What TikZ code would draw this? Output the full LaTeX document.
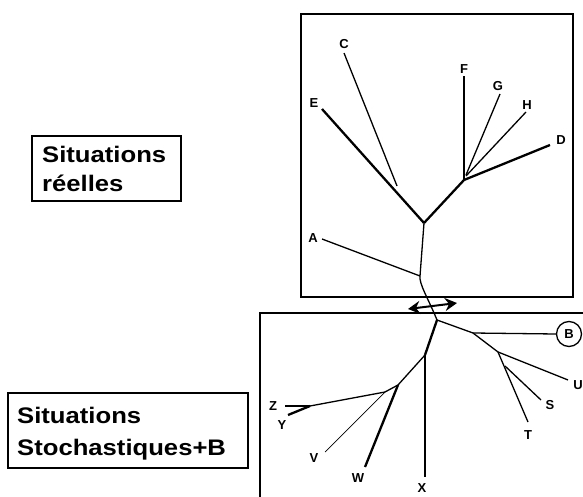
\documentclass[tikz,border=0pt]{standalone}
\usepackage{fontspec}
\setmainfont{Liberation Sans}
\usetikzlibrary{arrows.meta}
\begin{document}
\begin{tikzpicture}[x=1pt,y=-1pt,
  frame/.style={draw, line width=1.3pt},
  br/.style={line width=1.3pt},
  brthick/.style={line width=2.3pt},
  brthin/.style={line width=0.7pt},
  leaf/.style={font=\fontsize{13}{15}\selectfont\bfseries, inner sep=0pt},
  title/.style={anchor=base west, inner sep=0pt, font=\fontsize{22.5}{26}\selectfont\bfseries}
]
\useasboundingbox (0,0) rectangle (583,497);
\clip (0,0) rectangle (583,497);

% frames
\draw[frame] (301,14) rectangle (573,297);
\draw[frame] (260,313) rectangle (600,520);
\draw[frame] (32,136) rectangle (181,201);
\draw[frame] (8,393) rectangle (248,468);

\node[title] (t1) at (42,163) {\scalebox{1.14}[1]{Situations}};
\node[title] (t2) at (42,192) {\scalebox{1.14}[1]{réelles}};
\node[title] (t3) at (17,423) {\scalebox{1.14}[1]{Situations}};
\node[title] (t4) at (17,455) {\scalebox{1.14}[1]{Stochastiques+B}};

% upper tree: internal points
\coordinate (p1) at (420,276);
\coordinate (p2) at (424,223);
\coordinate (p3) at (397,186);
\coordinate (p4) at (464,180);
\coordinate (r)  at (437,320);

% leaves of the upper tree
\coordinate (eA) at (322,239);
\coordinate (eE) at (322,109);
\coordinate (eC) at (344,53);
\coordinate (eF) at (464,76);
\coordinate (eG) at (500,94);
\coordinate (eH) at (526,112);
\coordinate (eD) at (550,145);

\node[leaf] (lA) at (313,238) {A};
\node[leaf] (lE) at (314,103) {E};
\node[leaf] (lC) at (344,44) {C};
\node[leaf] (lF) at (464,69) {F};
\node[leaf] (lG) at (498,86) {G};
\node[leaf] (lH) at (527,105) {H};
\node[leaf] (lD) at (561,140) {D};

\draw[br] (r) .. controls (428,298) and (419,284) .. (p1);
\draw[br] (p1) -- (p2);
\draw[br] (p1) -- (eA);
\draw[brthick] (p2) -- (eE);
\draw[br] (p3) -- (eC);
\draw[brthick] (p2) -- (p4);
\draw[br] (p4) -- (eF);
\draw[br] (466,175) -- (eG);
\draw[br] (466,176) -- (eH);
\draw[brthick] (p4) -- (eD);

% exchange arrow between the two frames
\coordinate (a1) at (408,309);
\coordinate (a2) at (457,303);
\draw[line width=2pt, {Stealth[length=12pt,width=13pt,inset=4pt]}-{Stealth[length=12pt,width=13pt,inset=4pt]}] (a1) -- (a2);

% lower tree: internal points
\coordinate (q1) at (473,333);
\coordinate (q2) at (498,352);
\coordinate (q3) at (505,366);
\coordinate (k1) at (425,355);
\coordinate (k2) at (398,385);
\coordinate (k3) at (385,392);
\coordinate (k4) at (310,406);

% leaves of the lower tree
\node[draw, circle, line width=1.3pt, minimum size=25pt, inner sep=0pt,
      font=\fontsize{13}{15}\selectfont\bfseries] (cB) at (569,334) {B};
\coordinate (eU) at (568,380);
\coordinate (eS) at (541,400);
\coordinate (eT) at (528,422);
\coordinate (eX) at (425,477);
\coordinate (eW) at (365,467);
\coordinate (eV) at (325,452);
\coordinate (eZ) at (285,406);
\coordinate (eY) at (288,415);

\node[leaf] (lU) at (578,385) {U};
\node[leaf] (lS) at (550,405) {S};
\node[leaf] (lT) at (528,435) {T};
\node[leaf] (lX) at (422,488) {X};
\node[leaf] (lW) at (358,478) {W};
\node[leaf] (lV) at (314,458) {V};
\node[leaf] (lZ) at (273,406) {Z};
\node[leaf] (lY) at (282,425) {Y};

\draw[br] (r) -- (q1) -- (q2);
\draw[br] (q1) -- (cB.west);
\draw[br] (q2) -- (eU);
\draw[br] (q2) -- (eT);
\draw[br] (q3) -- (eS);

\draw[brthick] (r) -- (k1);
\draw[br] (k1) .. controls (412,370) .. (k2);
\draw[brthick] (k1) -- (eX);
\draw[brthick] (k2) -- (eW);
\draw[br] (k2) -- (k3);
\draw[brthin] (k3) -- (eV);
\draw[br] (k3) -- (k4);
\draw[brthick] (k4) -- (eZ);
\draw[brthick] (k4) -- (eY);
\end{tikzpicture}
\end{document}
